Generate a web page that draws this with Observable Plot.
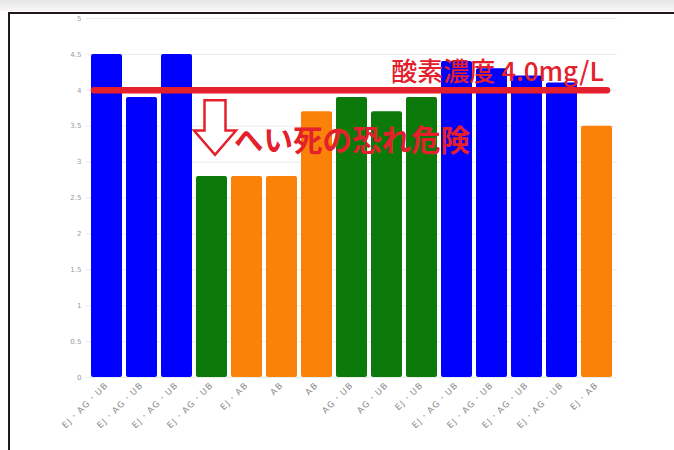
<!DOCTYPE html>
<html><head><meta charset="utf-8">
<script src="https://cdn.jsdelivr.net/npm/d3@7"></script>
<script src="https://cdn.jsdelivr.net/npm/@observablehq/plot@0.6"></script>
<style>
html,body{margin:0;padding:0;background:#fff;width:674px;height:450px;overflow:hidden;}
#top{position:absolute;left:0;top:0;width:674px;height:11px;background:linear-gradient(#e6e6e6,#f7f7f7);}
#frame{position:absolute;left:8px;top:12px;width:680px;height:450px;border:2px solid #231816;box-sizing:border-box;}
#chart{position:absolute;left:0;top:0;}
</style></head>
<body>
<div id="top"></div>
<div id="frame"></div>
<div id="chart"></div>
<script>
const labels = ["EJ・AG・UB","EJ・AG・UB","EJ・AG・UB","EJ・AG・UB","EJ・AB","AB","AB","AG・UB","AG・UB","EJ・UB","EJ・AG・UB","EJ・AG・UB","EJ・AG・UB","EJ・AG・UB","EJ・AB"];
const values = [4.5,3.9,4.5,2.8,2.8,2.8,3.7,3.9,3.7,3.9,4.4,4.3,4.2,4.1,3.5];
const groups = ["EJ・AG・UB","EJ・AG・UB","EJ・AG・UB","AG・UB","AB","AB","AB","AG・UB","AG・UB","AG・UB","EJ・AG・UB","EJ・AG・UB","EJ・AG・UB","EJ・AG・UB","AB"];
const groupColors = {"EJ・AG・UB":"#0000ff","AG・UB":"#0b7a0b","AB":"#fb8209"};
const yTicks = [0,0.5,1,1.5,2,2.5,3,3.5,4,4.5,5];
const threshold = 4.0;
const thresholdLabel = "酸素濃度 4.0mg/L";
const warningLabel = "へい死の恐れ危険";

const data = values.map((v,i)=>({i, label: labels[i], value: v, group: groups[i]}));
const red = "#e3202b";

// outlined down-arrow symbol for the warning annotation
const downArrow = {
  draw(ctx, size) {
    const s = Math.sqrt(size / Math.PI);
    ctx.moveTo(-0.5*s, -1.3*s);
    ctx.lineTo(0.5*s, -1.3*s);
    ctx.lineTo(0.5*s, 0.14*s);
    ctx.lineTo(1.0*s, 0.14*s);
    ctx.lineTo(0, 1.3*s);
    ctx.lineTo(-1.0*s, 0.14*s);
    ctx.lineTo(-0.5*s, 0.14*s);
    ctx.closePath();
  }
};

const chart = Plot.plot({
  width: 674, height: 450,
  marginLeft: 86, marginRight: 57, marginTop: 18, marginBottom: 73,
  x: {domain: d3.range(values.length), paddingInner: 0.12, paddingOuter: 0.06, tickFormat: i => labels[i], tickRotate: -45, tickSize: 0, tickPadding: 6, label: null},
  y: {domain: [0,5], ticks: yTicks, tickFormat: d => String(d), tickSize: 0, tickPadding: 5, label: null, grid: true},
  style: {fontFamily: "DejaVu Sans", background: "transparent"},
  marks: [
    Plot.barY(data, {x: "i", y: "value", fill: d => groupColors[d.group], rx: 2}),
    Plot.ruleY([threshold], {stroke: red, strokeWidth: 6.5, strokeLinecap: "round", insetLeft: 8, insetRight: 10}),
    Plot.text([thresholdLabel], {x: [values.length-1], y: [threshold], text: d => d, fill: red, fontSize: 26, fontWeight: 500, textAnchor: "end", dx: 7, dy: -18, fontFamily: "Noto Sans CJK JP"}),
    Plot.dot([0], {x: [3], y: [3.48], symbol: downArrow, r: 21, fill: "white", stroke: red, strokeWidth: 2.5, dx: 3}),
    Plot.text([warningLabel], {x: [4], y: [3.29], text: d => d, fill: red, fontSize: 29.5, fontWeight: "bold", textAnchor: "start", dx: -13, fontFamily: "Noto Sans CJK JP"})
  ]
});
d3.select(chart).selectAll("[aria-label='x-axis tick label'] text").attr("fill","#888").style("font-size","8.5px").style("letter-spacing","1.4px");
d3.select(chart).selectAll("[aria-label='y-axis tick label'] text").attr("fill","#999").style("font-size","7px");
d3.select(chart).select("[aria-label='y-grid']").attr("stroke","#ddd").attr("stroke-opacity",0.6);
document.getElementById("chart").appendChild(chart);
</script>
</body></html>
